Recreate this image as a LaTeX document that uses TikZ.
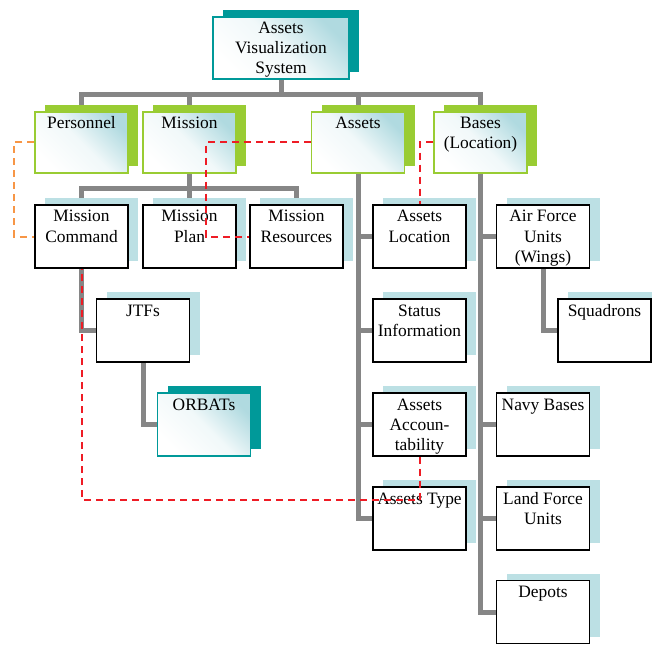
\documentclass[tikz,border=0pt]{standalone}
\usepackage{fontspec}
\setmainfont{Liberation Serif}
\usetikzlibrary{shadows}
\definecolor{tealc}{HTML}{009999}
\definecolor{greenc}{HTML}{99CC33}
\definecolor{lbluec}{HTML}{BCE0E4}
\definecolor{gradc}{HTML}{B0DAE0}
\definecolor{grayc}{HTML}{868686}
\definecolor{orangec}{HTML}{F79646}
\definecolor{redc}{HTML}{EE1C25}
\pgfdeclarelayer{bg}
\pgfsetlayers{bg,main}
\newcommand\dfont{\fontsize{17.4}{20}\selectfont}
\newcommand\bxt[3]{\parbox[c][#2][t]{#1}{\centering\rule{0pt}{17pt}#3}}
\tikzset{
  gbox/.style={draw=#1, line width=1.5pt, inner sep=0pt, font=\dfont,
    top color=gradc, bottom color=white, middle color=white!82!gradc, shading angle=-45,
    general shadow={shadow xshift=10pt, shadow yshift=7pt, fill=#1}},
  wbox/.style={draw=black, line width=1.7pt, fill=white, inner sep=0pt, font=\dfont,
    general shadow={shadow xshift=10pt, shadow yshift=7pt, fill=lbluec}},
  conn/.style={draw=grayc, line width=5pt, line join=miter, line cap=rect},
  odash/.style={draw=orangec, line width=2pt, dash pattern=on 7pt off 5pt},
  rdash/.style={draw=redc, line width=2pt, dash pattern=on 7pt off 5pt}
}
\begin{document}
\begin{tikzpicture}[x=1pt,y=-1pt]
\useasboundingbox (0,0) rectangle (652,644);
% top
\node[gbox=tealc] (asv) at (281,48) {\bxt{136pt}{62pt}{Assets\\Visualization\\System}};
% level 1
\node[gbox=greenc] (pers) at (81.5,142.5) {\bxt{93pt}{61pt}{Personnel}};
\node[gbox=greenc] (miss) at (189.5,142.5) {\bxt{93pt}{61pt}{Mission}};
\node[gbox=greenc] (assets) at (358,142.5) {\bxt{93pt}{61pt}{Assets}};
\node[gbox=greenc] (bases) at (480.5,142.5) {\bxt{93pt}{61pt}{Bases\\(Location)}};
% mission children
\node[wbox] (mc) at (81.5,236.5) {\bxt{93pt}{63pt}{Mission\\Command}};
\node[wbox] (mplan) at (189.5,236.5) {\bxt{93pt}{63pt}{Mission\\Plan}};
\node[wbox] (mres) at (296.5,236.5) {\bxt{93pt}{63pt}{Mission\\Resources}};
\node[wbox] (jtf) at (143,330.5) {\bxt{93pt}{63pt}{JTFs}};
\node[gbox=tealc] (orb) at (204,424.5) {\bxt{93pt}{63pt}{ORBATs}};
% assets children
\node[wbox] (aloc) at (419.5,236.5) {\bxt{93pt}{63pt}{Assets\\Location}};
\node[wbox] (stat) at (419.5,330.5) {\bxt{93pt}{63pt}{Status\\Information}};
\node[wbox] (aacc) at (419.5,424.5) {\bxt{93pt}{63pt}{Assets\\Accoun-\\tability}};
\node[wbox] (atype) at (419.5,518.5) {\bxt{93pt}{63pt}{Assets Type}};
% bases children
\node[wbox] (afu) at (543,236.5) {\bxt{93pt}{63pt}{Air Force\\Units\\(Wings)}};
\node[wbox] (sqd) at (604.5,330.5) {\bxt{93pt}{63pt}{Squadrons}};
\node[wbox] (navy) at (543,424.5) {\bxt{93pt}{63pt}{Navy Bases}};
\node[wbox] (land) at (543,518.5) {\bxt{93pt}{63pt}{Land Force\\Units}};
\node[wbox] (dep) at (543,612) {\bxt{93pt}{63pt}{Depots}};
% connectors
\begin{pgfonlayer}{bg}
\draw[conn] (asv.south) -- (asv.south |- 0,95);
\draw[conn] (pers.north) -- (pers.north |- 0,95) -- (bases.north |- 0,95) -- (bases.north);
\draw[conn] (miss.north) -- (miss.north |- 0,95);
\draw[conn] (assets.north) -- (assets.north |- 0,95);
\draw[conn] (miss.south) -- (miss.south |- 0,189);
\draw[conn] (mc.north) -- (mc.north |- 0,189) -- (mres.north |- 0,189) -- (mres.north);
\draw[conn] (mplan.north) -- (mplan.north |- 0,189);
\draw[conn] (mc.south) |- (jtf.west);
\draw[conn] (jtf.south) |- (orb.west);
\draw[conn] (assets.south) |- (atype.west);
\draw[conn] (assets.south |- aloc.west) -- (aloc.west);
\draw[conn] (assets.south |- stat.west) -- (stat.west);
\draw[conn] (assets.south |- aacc.west) -- (aacc.west);
\draw[conn] (bases.south) |- (dep.west);
\draw[conn] (bases.south |- afu.west) -- (afu.west);
\draw[conn] (bases.south |- navy.west) -- (navy.west);
\draw[conn] (bases.south |- land.west) -- (land.west);
\draw[conn] (afu.south) |- (sqd.west);
\end{pgfonlayer}
% dashed relations
\coordinate (o1) at (14,142.5);
\coordinate (r1) at (206,142.5);
\coordinate (r3) at (419.5,500);
\draw[odash] (pers.west) -- (o1) -- (o1 |- mc.west) -- (mc.west);
\draw[rdash] (assets.west) -- (r1) -- (r1 |- mres.west) -- (mres.west);
\draw[rdash] (bases.west) -| (aloc.north);
\draw[rdash] (aacc.south) -- (r3) -| (mc.south);
\end{tikzpicture}
\end{document}
